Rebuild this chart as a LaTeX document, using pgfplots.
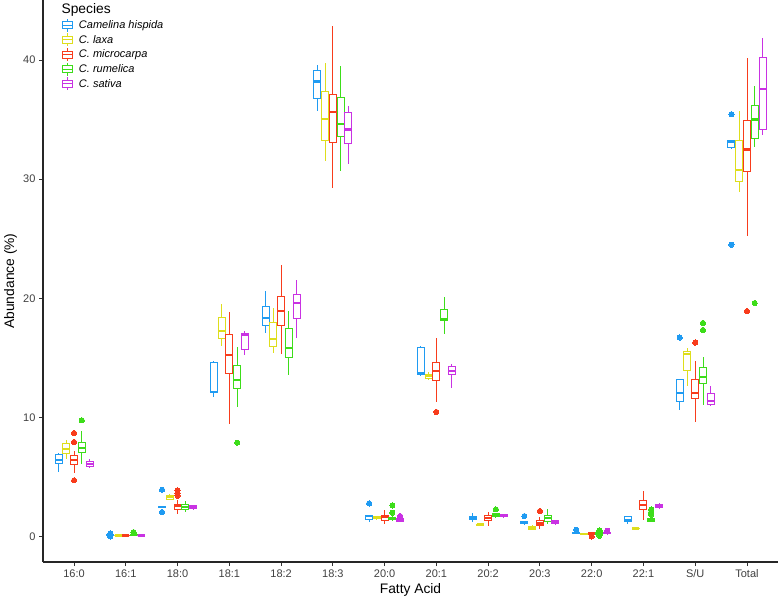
\documentclass[border=0pt]{standalone}
\usepackage{fontspec}
\setmainfont{Liberation Sans}
\usepackage{pgfplots}
\pgfplotsset{compat=1.18}
\usepgfplotslibrary{statistics}

\definecolor{cBlue}{HTML}{1F9BF2}
\definecolor{cYellow}{HTML}{DEDE1C}
\definecolor{cRed}{HTML}{F83C1C}
\definecolor{cGreen}{HTML}{3DDD1A}
\definecolor{cPurple}{HTML}{C932E3}

% one box: colour, position, lower whisker, q1, median, q3, upper whisker, outliers
\newcommand{\bx}[8]{%
  \addplot[bp=#1, boxplot prepared={draw position=#2, lower whisker=#3,
    lower quartile=#4, median=#5, upper quartile=#6, upper whisker=#7}]
    coordinates {#8};}

\pgfplotsset{
  bp/.style={draw=#1, fill=white, line width=0.9pt, solid, forget plot,
    mark=*, mark size=2.6pt, mark options={draw=#1, fill=#1, line width=0pt},
    boxplot/draw direction=y,
    boxplot/box extend=0.135, boxplot/whisker extend=0,
    boxplot/every median/.style={line width=2.2pt}},
  glyph/.style={legend image code/.code={
    \draw[line width=0.9pt] (0pt,-3.5pt) rectangle (10pt,3.5pt);
    \draw[line width=0.9pt] (0pt,0pt) -- (10pt,0pt);
    \draw[line width=0.9pt] (5pt,3.5pt) -- (5pt,6.5pt) (5pt,-3.5pt) -- (5pt,-6.5pt);}},
}

\begin{document}
\begin{tikzpicture}
\begin{axis}[
  scale only axis, width=735pt, height=562pt,
  xmin=0.4, xmax=14.6, ymin=-2.15, ymax=45.05,
  axis x line*=bottom, axis y line*=left,
  axis line style={black!85, line width=1.1pt},
  tick style={black!80, line width=0.9pt}, tick align=outside,
  major tick length=4pt,
  xtick={1,...,14},
  xticklabels={16:0,16:1,18:0,18:1,18:2,18:3,20:0,20:1,20:2,20:3,22:0,22:1,S/U,Total},
  ytick={0,10,20,30,40},
  /pgf/number format/assume math mode=true,
  tick label style={font=\fontsize{11}{13}\selectfont, text=black!75},
  xlabel={Fatty Acid}, ylabel={Abundance (\%)},
  label style={font=\fontsize{13.8}{16}\selectfont},
  xlabel style={at={(axis description cs:0.5,-0.037)}, anchor=north, inner sep=0pt},
  ylabel style={at={(axis description cs:-0.035,0.5)}, anchor=south, inner sep=0pt},
  legend cell align=left,
  legend style={at={(rel axis cs:0.025,0.968)}, anchor=north west, draw=none, fill=none,
    font=\fontsize{11}{13}\selectfont\itshape, row sep=0.8pt, column sep=5pt,
    inner sep=0pt, nodes={inner sep=1.5pt}},
]
\addlegendimage{glyph, draw=cBlue}\addlegendentry{Camelina hispida}
\addlegendimage{glyph, draw=cYellow}\addlegendentry{C. laxa}
\addlegendimage{glyph, draw=cRed}\addlegendentry{C. microcarpa}
\addlegendimage{glyph, draw=cGreen}\addlegendentry{C. rumelica}
\addlegendimage{glyph, draw=cPurple}\addlegendentry{C. sativa}

% 16:0
\bx{cBlue}{0.70}{5.40}{6.11}{6.39}{6.87}{7.00}{}
\bx{cYellow}{0.85}{6.50}{6.95}{7.34}{7.79}{8.12}{}
\bx{cRed}{1.00}{5.32}{6.05}{6.39}{6.81}{7.17}{(0,8.68) (0,7.93) (0,4.71)}
\bx{cGreen}{1.15}{6.05}{7.06}{7.42}{7.87}{8.85}{(0,9.75)}
\bx{cPurple}{1.30}{5.85}{5.87}{6.10}{6.33}{6.50}{}
% 16:1
\bx{cBlue}{1.70}{0.02}{0.06}{0.10}{0.14}{0.18}{(0,0.20) (0,0.00) (0,0.26)}
\bx{cYellow}{1.85}{0.03}{0.05}{0.07}{0.09}{0.11}{}
\bx{cRed}{2.00}{0.02}{0.04}{0.07}{0.10}{0.13}{}
\bx{cGreen}{2.15}{0.08}{0.12}{0.15}{0.18}{0.22}{(0,0.31) (0,0.36)}
\bx{cPurple}{2.30}{0.03}{0.05}{0.07}{0.09}{0.11}{}
% 18:0
\bx{cBlue}{2.70}{2.40}{2.44}{2.48}{2.52}{2.56}{(0,3.92) (0,2.04)}
\bx{cYellow}{2.85}{3.03}{3.11}{3.28}{3.47}{3.59}{}
\bx{cRed}{3.00}{1.90}{2.30}{2.52}{2.71}{3.08}{(0,3.87) (0,3.64) (0,3.42)}
\bx{cGreen}{3.15}{2.02}{2.27}{2.46}{2.66}{2.94}{}
\bx{cPurple}{3.30}{2.30}{2.32}{2.45}{2.58}{2.62}{}
% 18:1
\bx{cBlue}{3.70}{11.70}{12.05}{12.10}{14.60}{14.70}{}
\bx{cYellow}{3.85}{16.00}{16.61}{17.25}{18.38}{19.50}{}
\bx{cRed}{4.00}{9.47}{13.67}{15.21}{16.92}{18.85}{}
\bx{cGreen}{4.15}{10.87}{12.46}{13.14}{14.34}{15.91}{(0,7.87)}
\bx{cPurple}{4.30}{15.27}{15.74}{16.95}{17.03}{17.25}{}
% 18:2
\bx{cBlue}{4.70}{17.10}{17.73}{18.32}{19.33}{20.65}{}
\bx{cYellow}{4.85}{15.43}{15.99}{16.58}{17.93}{19.21}{}
\bx{cRed}{5.00}{15.35}{17.70}{18.96}{20.14}{22.83}{}
\bx{cGreen}{5.15}{13.59}{15.07}{15.83}{17.50}{18.96}{}
\bx{cPurple}{5.30}{16.64}{18.29}{19.61}{20.31}{21.57}{}
% 18:3
\bx{cBlue}{5.70}{35.74}{36.78}{38.21}{39.10}{39.55}{}
\bx{cYellow}{5.85}{31.54}{33.25}{35.04}{37.39}{39.72}{}
\bx{cRed}{6.00}{29.30}{33.11}{35.63}{37.08}{42.86}{}
\bx{cGreen}{6.15}{30.65}{33.59}{34.65}{36.83}{39.50}{}
\bx{cPurple}{6.30}{31.26}{33.00}{34.18}{35.60}{36.13}{}
% 20:0
\bx{cBlue}{6.70}{1.20}{1.45}{1.70}{1.79}{1.82}{(0,2.77)}
\bx{cYellow}{6.85}{1.45}{1.50}{1.57}{1.65}{1.70}{}
\bx{cRed}{7.00}{1.06}{1.34}{1.60}{1.79}{2.18}{}
\bx{cGreen}{7.15}{1.30}{1.40}{1.50}{1.57}{1.76}{(0,2.60) (0,1.99)}
\bx{cPurple}{7.30}{1.25}{1.29}{1.40}{1.49}{1.55}{(0,1.71)}
% 20:1
\bx{cBlue}{7.70}{13.50}{13.60}{13.70}{15.90}{15.95}{}
\bx{cYellow}{7.85}{13.10}{13.30}{13.45}{13.60}{13.80}{}
\bx{cRed}{8.00}{11.30}{13.10}{13.90}{14.60}{16.70}{(0,10.45)}
\bx{cGreen}{8.15}{17.00}{18.15}{18.26}{19.05}{20.11}{}
\bx{cPurple}{8.30}{12.50}{13.60}{13.90}{14.30}{14.50}{}
% 20:2
\bx{cBlue}{8.70}{1.20}{1.43}{1.55}{1.68}{1.96}{}
\bx{cYellow}{8.85}{0.93}{0.96}{1.00}{1.04}{1.06}{}
\bx{cRed}{9.00}{0.90}{1.37}{1.57}{1.79}{2.02}{}
\bx{cGreen}{9.15}{1.60}{1.65}{1.78}{1.90}{1.95}{(0,2.27)}
\bx{cPurple}{9.30}{1.60}{1.65}{1.75}{1.82}{1.85}{}
% 20:3
\bx{cBlue}{9.70}{0.95}{1.09}{1.20}{1.29}{1.32}{(0,1.71)}
\bx{cYellow}{9.85}{0.60}{0.62}{0.75}{0.84}{0.98}{}
\bx{cRed}{10.00}{0.62}{0.90}{1.09}{1.34}{1.60}{(0,2.13)}
\bx{cGreen}{10.15}{1.06}{1.29}{1.54}{1.76}{2.27}{}
\bx{cPurple}{10.30}{1.00}{1.06}{1.20}{1.37}{1.40}{}
% 22:0
\bx{cBlue}{10.70}{0.22}{0.25}{0.28}{0.32}{0.35}{(0,0.56)}
\bx{cYellow}{10.85}{0.18}{0.20}{0.22}{0.24}{0.26}{}
\bx{cRed}{11.00}{0.15}{0.20}{0.25}{0.33}{0.36}{(0,0.00)}
\bx{cGreen}{11.15}{0.12}{0.18}{0.25}{0.30}{0.35}{(0,0.50) (0,0.06) (0,0.42)}
\bx{cPurple}{11.30}{0.20}{0.22}{0.28}{0.34}{0.38}{(0,0.48)}
% 22:1
\bx{cBlue}{11.70}{1.06}{1.23}{1.40}{1.65}{1.68}{}
\bx{cYellow}{11.85}{0.64}{0.65}{0.67}{0.69}{0.70}{}
\bx{cRed}{12.00}{1.37}{2.27}{2.63}{3.00}{3.84}{}
\bx{cGreen}{12.15}{1.27}{1.29}{1.40}{1.49}{1.52}{(0,2.27) (0,2.04) (0,1.82)}
\bx{cPurple}{12.30}{2.38}{2.40}{2.55}{2.66}{2.83}{}
% S/U
\bx{cBlue}{12.70}{10.62}{11.34}{12.07}{13.14}{13.16}{(0,16.70)}
\bx{cYellow}{12.85}{12.63}{13.92}{15.35}{15.55}{15.83}{}
\bx{cRed}{13.00}{9.58}{11.57}{12.07}{13.14}{14.73}{(0,16.28)}
\bx{cGreen}{13.15}{11.07}{12.83}{13.36}{14.23}{15.04}{(0,17.93) (0,17.34)}
\bx{cPurple}{13.30}{11.03}{11.05}{11.40}{12.02}{12.60}{}
% Total
\bx{cBlue}{13.70}{32.65}{32.66}{33.14}{33.25}{33.27}{(0,35.46) (0,24.50)}
\bx{cYellow}{13.85}{28.90}{29.83}{30.77}{33.28}{35.76}{}
\bx{cRed}{14.00}{25.21}{30.63}{32.50}{34.93}{40.19}{(0,18.92)}
\bx{cGreen}{14.15}{32.70}{33.39}{35.01}{36.22}{37.80}{(0,19.60)}
\bx{cPurple}{14.30}{33.69}{34.21}{37.60}{40.25}{41.87}{}

\node[anchor=north west, inner sep=0pt, font=\fontsize{13.8}{16}\selectfont]
  at (rel axis cs:0.025,0.995) {Species};
\end{axis}
\pgfresetboundingbox
\path (-43pt,-38pt) rectangle (735pt,562pt);
\end{tikzpicture}
\end{document}
